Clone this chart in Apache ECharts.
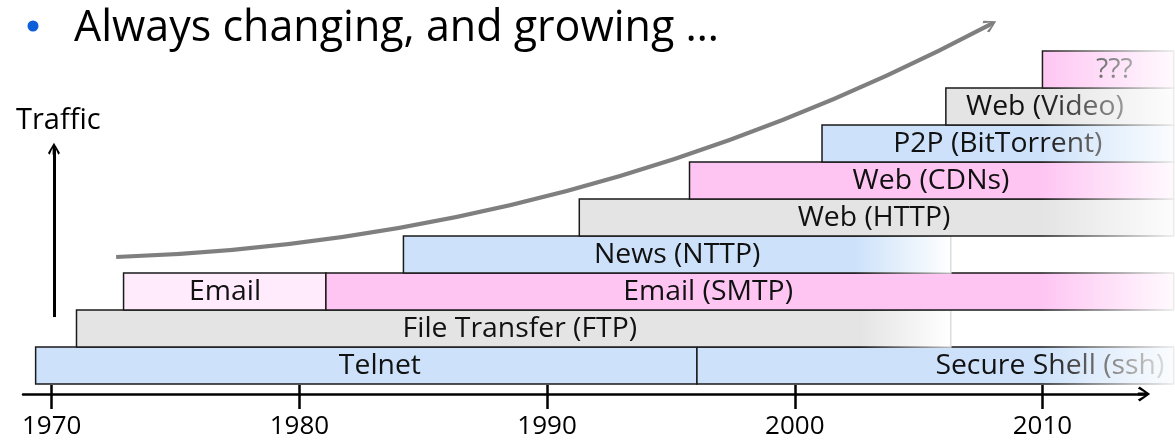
<!DOCTYPE html>
<html>
<head>
<meta charset="utf-8">
<script src="https://cdn.jsdelivr.net/npm/echarts@6/dist/echarts.min.js"></script>
<style>
  html, body { margin: 0; padding: 0; background: #fff; }
  #chart { width: 1175px; height: 442px; }
</style>
</head>
<body>
<div id="chart"></div>
<script>
// timeline of protocols, one entry per bar
const labels = ['Telnet', 'Secure Shell (ssh)', 'File Transfer (FTP)', 'Email', 'Email (SMTP)',
  'News (NTTP)', 'Web (HTTP)', 'Web (CDNs)', 'P2P (BitTorrent)', 'Web (Video)', '???']
const rows = [0, 0, 1, 2, 2, 3, 4, 5, 6, 7, 8]
const startYears = [1969.35, 1996.05, 1971.0, 1972.9, 1981.07, 1984.2, 1991.3, 1995.75, 2001.1, 2006.1, 2010.0]
const endYears = [1996.05, 2015.3, 2006.3, 1981.07, 2015.3, 2006.3, 2015.3, 2015.3, 2015.3, 2015.3, 2015.3]
const fadeFrom = [null, null, 2002.6, null, null, 2002.4, null, null, null, null, null]
const labelAt = [1983.25, 2010.3, 1988.9, 1977.0, 1996.5, 1995.25, 2003.2, 2005.5, 2008.2, 2010.1, 2012.9]
const kinds = ['blue', 'blue', 'gray', 'lightpink', 'pink', 'blue', 'gray', 'pink', 'blue', 'gray', 'pink']

const yearTicks = [1970, 1980, 1990, 2000, 2010]
const trafficArrow = [[1970.09, 1.81], [1970.09, 6.36]]
const growthArrow = [[1972.6, 3.43], [2007.9, 9.72]]

const palette = {
  blue: '#cde2fa',
  gray: '#e4e4e4',
  pink: '#fec5f3',
  lightpink: '#ffebfb'
}
const FONT = '"Open Sans", "Noto Sans", sans-serif'

// open arrow head (pointing up) with a short stem so the line reaches the tip
const chevron = (stem) => {
  const a = 5 - stem / 2
  const b = 5 + stem / 2
  return 'path://M5,0 L10,7 L8.6,8.2 L' + b + ',3.6 L' + b + ',8.2 L' + a + ',8.2 L' + a + ',3.6 L1.4,8.2 L0,7 Z'
}

const chart = echarts.init(document.getElementById('chart'))

const barData = labels.map((name, i) => [startYears[i], endYears[i], rows[i], i])

const renderBar = (params, api) => {
  const i = api.value(3)
  const tl = api.coord([api.value(0), api.value(2) + 1])
  const br = api.coord([api.value(1), api.value(2)])
  const w = br[0] - tl[0]
  const h = br[1] - tl[1]
  const color = palette[kinds[i]]
  let fill = color
  let stroke = '#1a1a1a'
  if (fadeFrom[i] != null) {
    const f = (api.coord([fadeFrom[i], 0])[0] - tl[0]) / w
    fill = new echarts.graphic.LinearGradient(0, 0, 1, 0, [
      { offset: 0, color: color },
      { offset: f, color: color },
      { offset: 1, color: '#ffffff' }
    ])
    stroke = new echarts.graphic.LinearGradient(0, 0, 1, 0, [
      { offset: 0, color: '#1a1a1a' },
      { offset: f, color: '#1a1a1a' },
      { offset: 1, color: '#dddddd' }
    ])
  }
  const lx = api.coord([labelAt[i], 0])[0]
  return {
    type: 'group',
    children: [
      {
        type: 'rect',
        shape: { x: tl[0], y: tl[1], width: w, height: h },
        style: { fill: fill, stroke: stroke, lineWidth: 1.5 }
      },
      {
        type: 'text',
        z2: 10,
        x: lx,
        y: tl[1] + h / 2 + 1,
        scaleX: 1.05,
        style: {
          text: labels[i],
          x: 0,
          y: 0,
          align: 'center',
          verticalAlign: 'middle',
          fill: '#111',
          font: '27px ' + FONT
        }
      }
    ]
  }
}

const xMin = 1968.84
const xMax = 2014.1

chart.setOption({
  animation: false,
  title: [
    {
      text: 'Always changing, and growing …',
      left: 69,
      top: 2,
      textStyle: { fontFamily: FONT, fontSize: 43, fontWeight: 'normal', color: '#000' }
    },
    {
      text: 'Traffic',
      left: 11,
      top: 101,
      textStyle: { fontFamily: FONT, fontSize: 29, fontWeight: 'normal', color: '#000' }
    }
  ],
  graphic: [
    {
      type: 'circle',
      shape: { cx: 33, cy: 26, r: 5.5 },
      style: { fill: '#0b5fd8' }
    },
    {
      // white fade over the right edge of the bars
      type: 'rect',
      z: 100,
      shape: { x: 1040, y: 40, width: 135, height: 346 },
      style: {
        fill: new echarts.graphic.LinearGradient(0, 0, 1, 0, [
          { offset: 0, color: 'rgba(255,255,255,0)' },
          { offset: 1, color: 'rgba(255,255,255,0.92)' }
        ])
      }
    }
  ],
  grid: { left: 23, right: 31, top: 51, bottom: 48 },
  xAxis: [
    {
      type: 'value',
      min: xMin,
      max: xMax,
      axisLine: {
        onZero: false,
        symbol: ['none', chevron(2)],
        symbolSize: [15, 13],
        lineStyle: { color: '#000', width: 2.5 }
      },
      axisTick: { customValues: yearTicks, length: 15, lineStyle: { color: '#000', width: 2.5 } },
      axisLabel: {
        customValues: yearTicks,
        margin: 20,
        color: '#000',
        fontFamily: FONT,
        fontSize: 26,
        formatter: v => String(v)
      },
      splitLine: { show: false }
    },
    {
      type: 'value',
      position: 'bottom',
      min: xMin,
      max: xMax,
      axisLine: { show: false, onZero: false },
      axisTick: { customValues: yearTicks, inside: true, length: 9, lineStyle: { color: '#000', width: 2.5 } },
      axisLabel: { show: false },
      splitLine: { show: false }
    }
  ],
  yAxis: { type: 'value', min: -0.27, max: 9, show: false },
  series: [
    {
      type: 'custom',
      renderItem: renderBar,
      encode: { x: [0, 1], y: 2 },
      clip: false,
      data: barData
    },
    {
      type: 'lines',
      coordinateSystem: 'cartesian2d',
      clip: false,
      symbol: ['none', chevron(2.2)],
      symbolSize: [14, 12],
      lineStyle: { color: '#000', width: 3, opacity: 1 },
      data: [{ coords: trafficArrow }]
    },
    {
      type: 'lines',
      coordinateSystem: 'cartesian2d',
      clip: false,
      symbol: ['none', chevron(2.6)],
      symbolSize: [16, 13],
      lineStyle: { color: '#7f7f7f', width: 4, opacity: 1, curveness: -0.115 },
      data: [{ coords: growthArrow }]
    }
  ]
})
</script>
</body>
</html>
